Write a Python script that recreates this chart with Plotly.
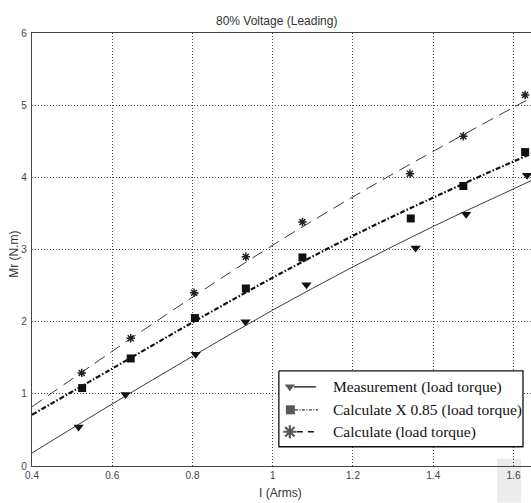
import plotly.graph_objects as go

# Measured points and calculated points (load torque vs. current)
meas_x = [0.516, 0.633, 0.808, 0.932, 1.084, 1.356, 1.482, 1.634]
meas_y = [0.54, 0.99, 1.55, 2.00, 2.51, 3.02, 3.49, 4.03]
calc85_x = [0.525, 0.646, 0.806, 0.933, 1.074, 1.344, 1.475, 1.629]
calc85_y = [1.08, 1.49, 2.05, 2.46, 2.89, 3.43, 3.88, 4.35]
calc_x = [0.524, 0.646, 0.804, 0.933, 1.074, 1.342, 1.475, 1.629]
calc_y = [1.29, 1.77, 2.40, 2.90, 3.38, 4.05, 4.57, 5.14]

# Fitted curves, sampled along the current axis
fit_x = [0.4, 0.6, 0.8, 1.0, 1.2, 1.4, 1.6, 1.65]
meas_fit = [0.18, 0.86, 1.52, 2.16, 2.76, 3.32, 3.84, 3.97]
calc85_fit = [0.71, 1.35, 1.99, 2.61, 3.19, 3.72, 4.22, 4.34]
calc_fit = [0.82, 1.59, 2.34, 3.06, 3.73, 4.36, 4.97, 5.12]

x_ticks = [0.4, 0.6, 0.8, 1.0, 1.2, 1.4, 1.6]
x_tick_text = ["0.4", "0.6", "0.8", "1", "1.2", "1.4", "1.6"]
y_ticks = [0, 1, 2, 3, 4, 5, 6]

legend_labels = ["Measurement (load torque)",
                 "Calculate X 0.85 (load torque)",
                 "Calculate (load torque)"]

W, H = 531, 503
L, T, B = 32.3, 32.5, 466.3


def px(v):
    """Page x pixel -> paper fraction."""
    return (v - L) / (W - L)


def py(v):
    """Page y pixel -> paper fraction."""
    return (B - v) / (B - T)


fig = go.Figure()

line_col = "#3a3a3a"
fig.add_trace(go.Scatter(x=fit_x, y=meas_fit, mode="lines", line_shape="spline",
                         line=dict(color=line_col, width=1), showlegend=False))
fig.add_trace(go.Scatter(x=fit_x, y=calc85_fit, mode="lines", line_shape="spline",
                         line=dict(color="#111", width=2.2, dash="5px,2px,1.5px,2px"),
                         showlegend=False))
fig.add_trace(go.Scatter(x=fit_x, y=calc_fit, mode="lines", line_shape="spline",
                         line=dict(color=line_col, width=1, dash="12px,7px"),
                         showlegend=False))

fig.add_trace(go.Scatter(x=meas_x, y=meas_y, mode="markers",
                         marker=dict(symbol="triangle-down", size=9, color="#111"),
                         showlegend=False, cliponaxis=False))
fig.add_trace(go.Scatter(x=calc85_x, y=calc85_y, mode="markers",
                         marker=dict(symbol="square", size=8, color="#111"),
                         showlegend=False, cliponaxis=False))
fig.add_trace(go.Scatter(x=calc_x, y=calc_y, mode="markers",
                         marker=dict(symbol="asterisk-open", size=7, color="#222",
                                     line=dict(color="#222", width=1.5)),
                         showlegend=False, cliponaxis=False))

# Legend block drawn on an overlay axis measured in page pixels
bx0, bx1, by0, by1 = 279, 523, 371, 447
fig.add_trace(go.Scatter(x=[bx0, bx1, bx1, bx0, bx0], y=[by0, by0, by1, by1, by0],
                         mode="lines", fill="toself", fillcolor="white",
                         line=dict(color="#111", width=1.3),
                         xaxis="x2", yaxis="y2", showlegend=False, hoverinfo="skip"))
rows = [387, 410, 432]
fig.add_trace(go.Scatter(x=[294, 316], y=[rows[0], rows[0]], mode="lines",
                         line=dict(color="#111", width=1.3),
                         xaxis="x2", yaxis="y2", showlegend=False, hoverinfo="skip"))
fig.add_trace(go.Scatter(x=[295, 318], y=[rows[1], rows[1]], mode="lines",
                         line=dict(color="#333", width=1.2, dash="3px,1.5px,1px,1.5px"),
                         xaxis="x2", yaxis="y2", showlegend=False, hoverinfo="skip"))
fig.add_trace(go.Scatter(x=[297, 318], y=[rows[2], rows[2]], mode="lines",
                         line=dict(color="#111", width=1.3, dash="6px,5px"),
                         xaxis="x2", yaxis="y2", showlegend=False, hoverinfo="skip"))
fig.add_trace(go.Scatter(x=[290, 290.5, 290], y=rows, mode="markers",
                         marker=dict(symbol=["triangle-down", "square", "asterisk-open"],
                                     size=[9, 9, 11], color="#111",
                                     line=dict(color="#111", width=[0, 0, 2.2])),
                         xaxis="x2", yaxis="y2", showlegend=False, hoverinfo="skip"))

annotations = []
for ry, lab in zip(rows, legend_labels):
    annotations.append(dict(x=331, y=ry, xref="x2", yref="y2", text=lab,
                            showarrow=False, xanchor="left", yanchor="middle",
                            font=dict(family="Liberation Serif", size=15.5, color="#111")))

annotations.append(dict(x=px(277), y=py(20), xref="paper", yref="paper",
                        text="80% Voltage (Leading)",
                        showarrow=False, xanchor="center", yanchor="middle",
                        font=dict(family="Liberation Sans", size=12, color="#333")))
annotations.append(dict(x=px(281), y=py(493), xref="paper", yref="paper", text="I (Arms)",
                        showarrow=False, xanchor="center", yanchor="middle",
                        font=dict(family="Liberation Sans", size=12, color="#333")))
annotations.append(dict(x=px(14), y=py(254), xref="paper", yref="paper", text="Mr (N.m)",
                        showarrow=False, textangle=-90, xanchor="center", yanchor="middle",
                        font=dict(family="Liberation Sans", size=12, color="#333")))

grid = dict(showgrid=True, gridcolor="#444", gridwidth=1, griddash="1px,2px")

fig.update_layout(
    width=W, height=H,
    margin=dict(l=L, r=0, t=T, b=H - B),
    paper_bgcolor="white", plot_bgcolor="white",
    showlegend=False,
    annotations=annotations,
    shapes=[dict(type="rect", xref="paper", yref="paper",
                 x0=px(497), x1=px(521), y0=py(503), y1=py(459),
                 fillcolor="#ececec", line=dict(width=0), layer="below")],
    xaxis=dict(range=[0.4, 0.4 + (W - L) / 401.0], tickvals=x_ticks, ticktext=x_tick_text,
               showline=True, linecolor="#444", linewidth=1.3, mirror=True,
               ticks="", zeroline=False,
               tickfont=dict(family="Liberation Sans", size=10, color="#444"), **grid),
    yaxis=dict(range=[0, 6], tickvals=y_ticks, showline=True, linecolor="#444",
               linewidth=1.3, ticks="", zeroline=False, ticklabelstandoff=2,
               tickfont=dict(family="Liberation Sans", size=10, color="#444"), **grid),
    xaxis2=dict(range=[L, W], overlaying="x", anchor="y2", visible=False, fixedrange=True),
    yaxis2=dict(range=[B, T], overlaying="y", anchor="x2", visible=False, fixedrange=True),
)

fig.write_html("out.html")
